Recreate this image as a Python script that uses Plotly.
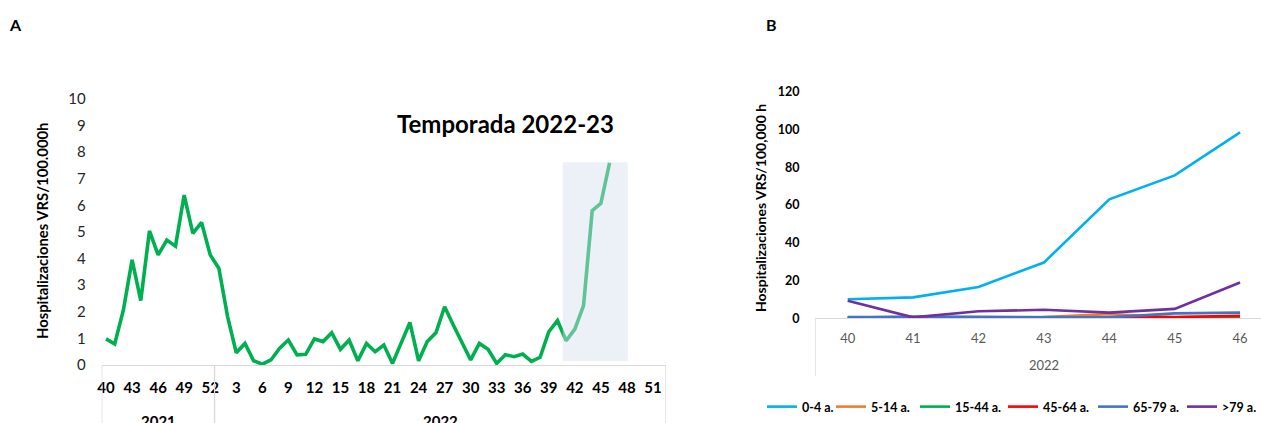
import plotly.graph_objects as go

# ---------------- Panel A data ----------------
weeks_2021 = list(range(40, 53))
weeks_2022 = list(range(1, 53))
rate_a = [
    # 2021 weeks 40-52
    0.98, 0.79, 2.07, 3.95, 2.42, 5.04, 4.14, 4.70, 4.47, 6.39, 4.95, 5.36, 4.14,
    # 2022 weeks 1-46
    3.63, 1.82, 0.46, 0.81, 0.16, 0.03, 0.19, 0.63, 0.94, 0.38,
    0.40, 0.98, 0.88, 1.21, 0.59, 0.94, 0.16, 0.81, 0.50, 0.75,
    0.06, 0.83, 1.60, 0.16, 0.88, 1.21, 2.19, 1.50, 0.81, 0.19,
    0.81, 0.59, 0.06, 0.39, 0.31, 0.41, 0.14, 0.29, 1.25, 1.67,
    0.91, 1.35, 2.23, 5.80, 6.08, 7.60,
]
y_ticks_a = list(range(0, 11))
shown_weeks_2021 = [40, 43, 46, 49, 52]
shown_weeks_2022 = [3, 6, 9, 12, 15, 18, 21, 24, 27, 30, 33, 36, 39, 42, 45, 48, 51]

# ---------------- Panel B data ----------------
weeks_b = ["40", "41", "42", "43", "44", "45", "46"]
groups_b = ["0-4 a.", "5-14 a.", "15-44 a.", "45-64 a.", "65-79 a.", ">79 a."]
rate_0_4 = [10.1, 11.1, 16.6, 29.5, 63.0, 75.7, 98.5]
rate_5_14 = [0.0, 0.0, 0.3, 0.6, 2.2, 0.5, 0.8]
rate_15_44 = [0.7, 0.2, 0.2, 0.2, 0.3, 0.4, 0.6]
rate_45_64 = [0.1, 0.2, 0.3, 0.3, 0.4, 0.7, 1.3]
rate_65_79 = [0.5, 0.9, 0.8, 0.5, 0.5, 2.6, 3.0]
rate_79p = [9.3, 0.5, 3.7, 4.5, 3.0, 5.0, 19.0]
colors_b = ["#00B0F0", "#ED7D31", "#00B050", "#FF0000", "#4472C4", "#7030A0"]
y_ticks_b = [0, 20, 40, 60, 80, 100, 120]

FONT = "Lato"
W, H = 1261, 423

cats_a = [f"2021-{w}" for w in weeks_2021] + [f"2022-{w}" for w in weeks_2022]
x_a = cats_a[:len(rate_a)]
tickvals_a = [f"2021-{w}" for w in shown_weeks_2021] + [f"2022-{w}" for w in shown_weeks_2022]
ticktext_a = [str(w) for w in shown_weeks_2021 + shown_weeks_2022]


def px_x(p):
    return p / W


def px_y(p):
    return (H - p) / H


fig = go.Figure()

fig.add_trace(go.Scatter(
    x=x_a, y=rate_a, mode="lines", xaxis="x", yaxis="y",
    line=dict(color="#00B050", width=3.6), showlegend=False,
    hoverinfo="skip",
))

series_b = [rate_0_4, rate_5_14, rate_15_44, rate_45_64, rate_65_79, rate_79p]
legend_ids = ["legend", "legend2", "legend3", "legend4", "legend5", "legend6"]
# left pixel of each legend item's line sample
legend_line_starts = [767, 836, 920, 1008, 1098, 1187]
for name, vals, col, lid in zip(groups_b, series_b, colors_b, legend_ids):
    fig.add_trace(go.Scatter(
        x=weeks_b, y=vals, mode="lines", xaxis="x2", yaxis="y2", name=name,
        line=dict(color=col, width=2.6), legend=lid,
    ))

a_left, a_right = px_x(101.7), px_x(666)
a_bottom, a_top = px_y(365), px_y(99)
b_left, b_right = px_x(815), 1.0
b_bottom, b_top = px_y(318.3), px_y(91.7)

axis_grey = "#D9D9D9"

fig.update_layout(
    width=W, height=H,
    margin=dict(l=0, r=0, t=0, b=0, pad=0, autoexpand=False),
    paper_bgcolor="white", plot_bgcolor="white",
    font=dict(family=FONT, color="#000000"),
    xaxis=dict(
        domain=[a_left, a_right], type="category", categoryorder="array",
        categoryarray=cats_a, range=[-0.5, len(cats_a) - 0.5],
        tickmode="array", tickvals=tickvals_a, ticktext=ticktext_a,
        tickangle=0, automargin=False,
        tickfont=dict(family=FONT, size=15, color="#000000", weight="bold"),
        ticks="outside", ticklen=9, tickcolor="rgba(0,0,0,0)",
        showline=True, linecolor=axis_grey, linewidth=1.3,
        showgrid=False, zeroline=False, fixedrange=True,
    ),
    yaxis=dict(
        domain=[a_bottom, a_top], range=[0, 10], automargin=False,
        tickmode="array", tickvals=y_ticks_a,
        tickfont=dict(family=FONT, size=15, color="#262626"),
        ticks="outside", ticklen=12, tickcolor="rgba(0,0,0,0)",
        showline=False, showgrid=False, zeroline=False,
    ),
    xaxis2=dict(
        domain=[b_left, b_right], type="category", anchor="y2",
        range=[-0.5, 6.32], automargin=False,
        tickfont=dict(family=FONT, size=13, color="#595959"),
        ticks="outside", ticklen=8, tickcolor="rgba(0,0,0,0)",
        showline=True, linecolor=axis_grey, linewidth=1.3,
        showgrid=False, zeroline=False,
    ),
    yaxis2=dict(
        domain=[b_bottom, b_top], anchor="x2", range=[0, 120], automargin=False,
        tickmode="array", tickvals=y_ticks_b,
        tickfont=dict(family=FONT, size=12.5, color="#000000", weight="bold"),
        ticks="outside", ticklen=12, tickcolor="rgba(0,0,0,0)",
        showline=False, showgrid=False, zeroline=False,
    ),
    showlegend=True,
)

for lid, start in zip(legend_ids, legend_line_starts):
    fig.update_layout({lid: dict(
        orientation="h", x=px_x(start - 5), xanchor="left",
        y=px_y(407), yanchor="middle",
        font=dict(family=FONT, size=12.5, color="#000000", weight="bold"),
        bgcolor="rgba(0,0,0,0)", borderwidth=0, itemwidth=30,
    )})

shapes = []
# highlighted recent weeks (semi-transparent overlay)
shapes.append(dict(
    type="rect", xref="x", yref="y", x0=52.6, x1=60.1, y0=0.15, y1=7.62,
    fillcolor="rgba(212,221,238,0.45)", line=dict(width=0), layer="above",
))
# category group dividers panel A
for xv in [-0.5, 12.5, len(cats_a) - 0.5]:
    shapes.append(dict(
        type="line", xref="x", yref="paper", x0=xv, x1=xv,
        y0=a_bottom, y1=-0.02, line=dict(color=axis_grey, width=1.3),
    ))
# panel B divider
shapes.append(dict(
    type="line", xref="x2", yref="paper", x0=-0.5, x1=-0.5,
    y0=b_bottom, y1=px_y(376), line=dict(color=axis_grey, width=1.3),
))
fig.update_layout(shapes=shapes)


def ann(text, x, y, size, xref="paper", color="#000000", angle=0, yanchor="middle"):
    return dict(text=text, x=x, y=y, xref=xref, yref="paper", showarrow=False,
                xanchor="center", yanchor=yanchor, textangle=angle,
                font=dict(family=FONT, size=size, color=color))


annotations = [
    ann("<b>A</b>", px_x(15), px_y(25), 16),
    ann("<b>B</b>", px_x(771), px_y(25), 16),
    ann("<b>Temporada 2022-23</b>", px_x(505), px_y(124), 24),
    ann("<b>Hospitalizaciones VRS/100.000h</b>", px_x(42), px_y(231), 14.8, angle=-90),
    ann("<b>Hospitalizaciones VRS/100,000 h</b>", px_x(760), px_y(208), 14, angle=-90),
    ann("<b>2021</b>", 6, px_y(410), 15, xref="x", yanchor="top"),
    ann("<b>2022</b>", 38.5, px_y(410), 15, xref="x", yanchor="top"),
    ann("2022", 3, px_y(365), 13, xref="x2", color="#595959"),
]
fig.update_layout(annotations=annotations)

fig.write_html("out.html", config={"displayModeBar": False},
               post_script="document.body.style.margin='0px';")
